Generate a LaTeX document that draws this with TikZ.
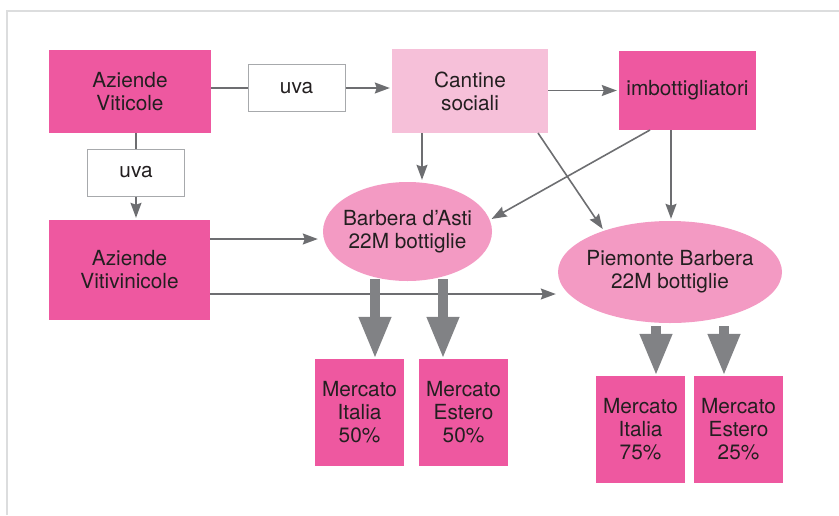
\documentclass[tikz,border=0pt]{standalone}
\usepackage{fontspec}
\setmainfont{TeX Gyre Heros}
\usetikzlibrary{arrows.meta, shapes.geometric, calc}
\definecolor{magenta}{HTML}{EE58A0}
\definecolor{lightpink}{HTML}{F6C0D9}
\definecolor{midpink}{HTML}{F39AC3}
\definecolor{arrgray}{HTML}{6D6E71}
\definecolor{blockgray}{HTML}{818285}
\definecolor{boxgray}{HTML}{A7A9AC}
\definecolor{framegray}{HTML}{DCDDDE}
\definecolor{ink}{HTML}{231F20}

\begin{document}
\begin{tikzpicture}[x=1pt, y=-1pt,
    font=\fontsize{20.8}{23}\selectfont,
    box/.style={rectangle, fill=magenta, inner sep=0pt, align=center, text=ink},
    uvabox/.style={rectangle, draw=boxgray, line width=1pt, fill=white, inner sep=0pt,
      minimum width=97pt, minimum height=47pt, text=ink},
    oval/.style={ellipse, fill=midpink, inner xsep=-16pt, inner ysep=0pt, align=center, text=ink},
    line/.style={draw=arrgray, line width=1.6pt},
    arr/.style={line, -{Stealth[length=15pt, width=11pt, inset=2pt]}, shorten >=2pt},
    block/.style={draw=blockgray, line width=10pt, -{Triangle[length=42pt, width=30pt]}}]
    \useasboundingbox (0,0) rectangle (839,515);

    % frame
    \draw[framegray, line width=1.5pt] (7,515) -- (7,11) -- (839,11);

    % producers
    \node[box, minimum width=162pt, minimum height=83pt] (azvit) at (130,91.5) {Aziende\\Viticole};
    \node[box, minimum width=161pt, minimum height=100pt] (azviv) at (129.5,270) {Aziende\\Vitivinicole};
    \node[box, fill=lightpink, minimum width=156pt, minimum height=84pt] (cant) at (470,91) {Cantine\\sociali};
    \node[box, minimum width=137pt, minimum height=79pt] (imb) at (687.5,90.5) {imbottigliatori};

    % uva labels
    \node[uvabox] (uvaA) at (296.5,88) {uva};
    \node[uvabox] (uvaB) at (136,172.5) {uva};

    % the two wines
    \node[oval, minimum width=169pt, minimum height=99pt] (asti) at (407.5,231.5) {Barbera d'Asti\\22M bottiglie};
    \node[oval, minimum width=224pt, minimum height=102pt] (piem) at (670,272) {Piemonte Barbera\\22M bottiglie};

    % markets
    \node[box, minimum width=89pt, minimum height=107pt] (mitA) at (359.5,412.5) {Mercato\\Italia\\50\%};
    \node[box, minimum width=89pt, minimum height=107pt] (mesA) at (463.5,412.5) {Mercato\\Estero\\50\%};
    \node[box, minimum width=89pt, minimum height=107pt] (mitP) at (640.5,429.5) {Mercato\\Italia\\75\%};
    \node[box, minimum width=89pt, minimum height=107pt] (mesP) at (738.5,429.5) {Mercato\\Estero\\25\%};

    % grape flows
    \draw[line] (azvit.east |- uvaA.west) -- (uvaA.west);
    \draw[arr] (uvaA.east) -- (uvaA.east -| cant.west);
    \draw[line] (azvit.south -| uvaB.north) -- (uvaB.north);
    \draw[arr] (uvaB.south) -- (uvaB.south |- azviv.north);

    % wine flows
    \coordinate (c1) at (422,133);
    \coordinate (c2) at (538,133);
    \coordinate (i1) at (650,130);
    \coordinate (i2) at (671,130);
    \coordinate (v1) at (210,239);
    \coordinate (v2) at (210,294);
    \draw[arr] (cant.east |- imb.west) -- (imb.west);
    \draw[arr] (c1) -- (c1 |- asti.north);
    \draw[arr] (c2) -- (piem.148);
    \draw[arr] (i1) -- (asti.8);
    \draw[arr] (i2) -- (i2 |- piem.north);
    \draw[arr, shorten >=5pt] (v1) -- (v1 -| asti.west);
    \draw[arr] (v2) -- (v2 -| piem.west);

    % sales
    \coordinate (a1) at (375,279);
    \coordinate (a2) at (443,279);
    \coordinate (p1) at (656,326);
    \coordinate (p2) at (724,326);
    \draw[block] (a1) -- (a1 |- mitA.north);
    \draw[block] (a2) -- (a2 |- mesA.north);
    \draw[block] (p1) -- (p1 |- mitP.north);
    \draw[block] (p2) -- (p2 |- mesP.north);
\end{tikzpicture}
\end{document}
